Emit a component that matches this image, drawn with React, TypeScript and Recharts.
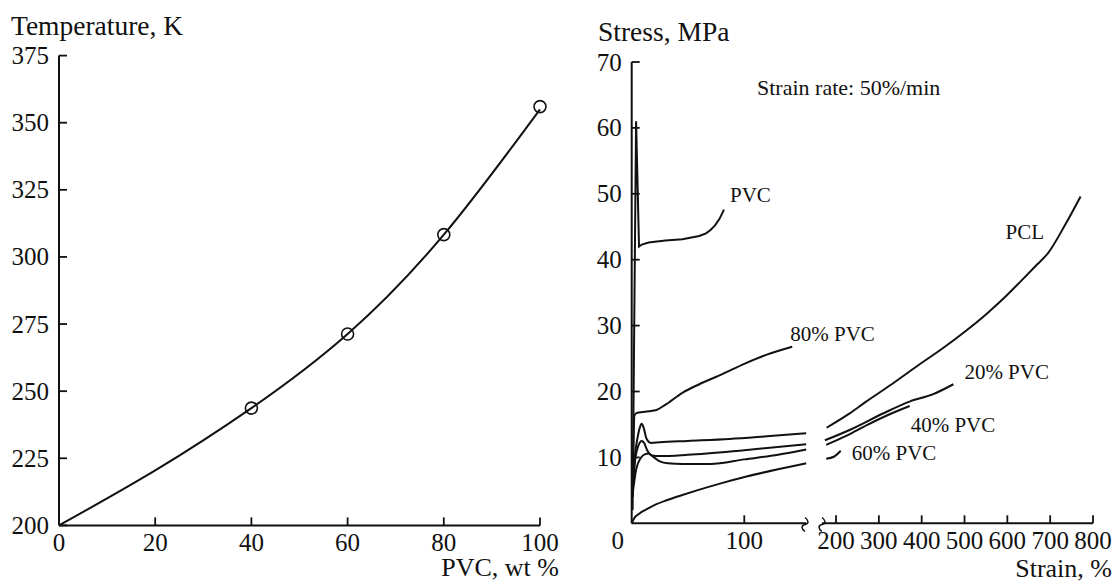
import React from 'react';
import { ComposedChart, Line, Scatter, XAxis, YAxis } from 'recharts';

const INK = '#111';
const FONT = '"Liberation Serif", "Times New Roman", Times, serif';

// left panel: Tg of the blend vs PVC content
const pvcContent = [0, 20, 40, 60, 80, 100];
const tgCurve = [200, 220.5, 243.7, 271.3, 308.3, 355];
const measuredContent = [40, 60, 80, 100];
const measuredTg = [243.7, 271.3, 308.3, 356];
const tempTicks = [200, 225, 250, 275, 300, 325, 350, 375];
const contentTicks = [0, 20, 40, 60, 80, 100];

// right panel: stress-strain curves, low strain part (0..155 %)
const pvcStrain = [0.8, 2.5, 3.9, 6.5, 9, 15, 30, 45, 60, 66, 70, 74, 78, 82];
const pvcStress = [2, 35, 61, 42, 42.3, 42.6, 42.9, 43.1, 43.6, 44, 44.5, 45.2, 46.2, 47.6];
const pvc80Strain = [0.5, 1.5, 2.3, 4, 5.9, 15, 22, 30, 45, 60, 80, 100, 120, 142.6];
const pvc80Stress = [4, 11, 16.3, 16.7, 16.8, 17.0, 17.2, 18.0, 19.8, 21.1, 22.6, 24.2, 25.6, 26.8];
const pclStrainA = [0.5, 3, 5, 7, 8.9, 10.8, 13, 17, 25, 50, 87, 120, 155];
const pclStressA = [4, 10.5, 12.8, 14.4, 15.1, 14.4, 12.9, 12.2, 12.3, 12.5, 12.8, 13.2, 13.65];
const pvc20StrainA = [0.5, 3, 6, 8.9, 11, 14, 18, 25, 50, 100, 155];
const pvc20StressA = [4, 9.5, 11.8, 12.5, 12.2, 11.0, 10.3, 10.2, 10.4, 11.1, 12.0];
const pvc40StrainA = [0.5, 4, 8, 12, 15, 19, 25, 32, 45, 70, 100, 130, 155];
const pvc40StressA = [4, 8.2, 9.9, 10.5, 10.6, 10.1, 9.4, 9.1, 9.0, 9.0, 9.7, 10.4, 11.2];
const pvc60StrainA = [0, 2, 7, 13, 22, 31, 45, 58, 80, 102, 130, 155];
const pvc60StressA = [0, 0.7, 1.5, 2.1, 2.9, 3.5, 4.3, 5.0, 6.1, 7.1, 8.2, 9.1];

// right panel: high strain part (167..800 %)
const pclStrainB = [178, 230, 271, 330, 388, 450, 505, 550, 591, 634, 670, 695, 735, 771];
const pclStressB = [14.5, 16.6, 18.5, 21.1, 23.8, 26.6, 29.3, 31.7, 34.1, 36.9, 39.3, 41.0, 45.3, 49.6];
const pvc20StrainB = [174, 233, 311, 373, 427, 474];
const pvc20StressB = [12.6, 14.2, 16.7, 18.5, 19.6, 21.1];
const pvc40StrainB = [177, 225, 272, 320, 372];
const pvc40StressB = [11.9, 13.3, 14.9, 16.4, 17.8];
const pvc60StrainB = [177, 195, 211];
const pvc60StressB = [9.8, 10.1, 11.0];

const stressTicks = [10, 20, 30, 40, 50, 60, 70];
const lowStrainTicks = [0, 100];
const highStrainTicks = [200, 300, 400, 500, 600, 700, 800];

const pts = (xs: number[], ys: number[]) => xs.map((x, i) => ({ strain: x, stress: ys[i] }));
const tgLine = pvcContent.map((x, i) => ({ x, t: tgCurve[i] }));
const tgPoints = measuredContent.map((x, i) => ({ x, t: measuredTg[i] }));

const TICK_FONT = 25;

const XTick = (props: any) => {
  const { x, y, payload } = props;
  const v = payload.value;
  const shift = props.originShift && v === 0 ? props.originShift : 0;
  return (
    <g>
      {v !== 0 && <line x1={x} y1={y} x2={x} y2={y - 8} stroke={INK} strokeWidth={1.8} />}
      <text x={x + shift} y={y + 26} textAnchor="middle" fontSize={TICK_FONT} fontFamily={FONT} fill={INK}>
        {v}
      </text>
    </g>
  );
};

const YTick = (props: any) => {
  const { x, y, payload } = props;
  const ax = x + 10;
  return (
    <g>
      <line x1={ax} y1={y} x2={ax + 8} y2={y} stroke={INK} strokeWidth={1.8} />
      <text x={x} y={y + 8.5} textAnchor="end" fontSize={TICK_FONT} fontFamily={FONT} fill={INK}>
        {payload.value}
      </text>
    </g>
  );
};

const tag = (text: string, at: number, dx: number, dy: number, anchor = 'start') => (p: any) =>
  p.index === at ? (
    <text key={text} x={p.x + dx} y={p.y + dy} textAnchor={anchor} fontSize={21} fontFamily={FONT} fill={INK}>
      {text}
    </text>
  ) : (
    <g key={`${text}-${p.index}`} />
  );

const axisLine = { stroke: INK, strokeWidth: 2 };

const curve = (data: any[], type: any, label?: any) => (
  <Line
    data={data}
    dataKey="stress"
    type={type}
    stroke={INK}
    strokeWidth={2}
    dot={false}
    label={label}
    isAnimationActive={false}
  />
);

const breakMark = (cx: number, cy: number) =>
  `M${cx},${cy - 7} C${cx + 4},${cy - 4} ${cx + 4},${cy - 1} ${cx},${cy} C${cx - 4},${cy + 1} ${cx - 4},${cy + 4} ${cx},${cy + 7}`;

export default function App() {
  return (
    <div style={{ position: 'absolute', left: 0, top: 0, width: 1117, height: 581, background: '#fff', overflow: 'hidden' }}>
      {/* left panel */}
      <div style={{ position: 'absolute', left: 0, top: 0 }}>
        <ComposedChart width={560} height={581} margin={{ top: 55.6, right: 20, bottom: 25.6, left: 0 }}>
          <XAxis
            dataKey="x"
            type="number"
            domain={[0, 100]}
            ticks={contentTicks}
            interval={0}
            height={30}
            tickSize={0}
            tickMargin={0}
            tickLine={false}
            axisLine={axisLine}
            tick={<XTick />}
          />
          <YAxis
            dataKey="t"
            type="number"
            domain={[200, 375]}
            ticks={tempTicks}
            interval={0}
            width={59}
            tickSize={0}
            tickMargin={10}
            tickLine={false}
            axisLine={axisLine}
            tick={<YTick />}
          />
          <Line data={tgLine} dataKey="t" type="natural" stroke={INK} strokeWidth={2} dot={false} isAnimationActive={false} />
          <Scatter
            data={tgPoints}
            dataKey="t"
            isAnimationActive={false}
            shape={(p: any) => <circle cx={p.cx} cy={p.cy} r={6} fill="none" stroke={INK} strokeWidth={1.6} />}
          />
        </ComposedChart>
      </div>

      {/* right panel, strain 0..155 */}
      <div style={{ position: 'absolute', left: 580, top: 0 }}>
        <ComposedChart width={300} height={581} margin={{ top: 62, right: 73.8, bottom: 27.7, left: 0 }}>
          <XAxis
            dataKey="strain"
            type="number"
            domain={[0, 155]}
            ticks={lowStrainTicks}
            interval={0}
            height={30}
            tickSize={0}
            tickMargin={0}
            tickLine={false}
            axisLine={axisLine}
            tick={<XTick originShift={-14} />}
          />
          <YAxis
            dataKey="stress"
            type="number"
            domain={[0, 70]}
            ticks={stressTicks}
            interval={0}
            width={51.7}
            tickSize={0}
            tickMargin={10}
            tickLine={false}
            axisLine={axisLine}
            tick={<YTick />}
          />
          {curve(pts(pvc60StrainA, pvc60StressA), 'monotone')}
          {curve(pts(pvc40StrainA, pvc40StressA), 'monotone')}
          {curve(pts(pvc20StrainA, pvc20StressA), 'monotone')}
          {curve(pts(pclStrainA, pclStressA), 'monotone')}
          {curve(pts(pvc80Strain, pvc80Stress), 'monotone', tag('80% PVC', pvc80Strain.length - 1, -2, -6))}
          {curve(pts(pvcStrain, pvcStress), 'linear', tag('PVC', pvcStrain.length - 1, 6, -7.6))}
        </ComposedChart>
      </div>

      {/* right panel, strain 167..800 */}
      <div style={{ position: 'absolute', left: 810, top: 0 }}>
        <ComposedChart width={307} height={581} margin={{ top: 62, right: 24, bottom: 27.7, left: 11.9 }}>
          <XAxis
            dataKey="strain"
            type="number"
            domain={[167, 800]}
            ticks={highStrainTicks}
            interval={0}
            height={30}
            tickSize={0}
            tickMargin={0}
            tickLine={false}
            axisLine={axisLine}
            tick={<XTick />}
          />
          <YAxis dataKey="stress" type="number" domain={[0, 70]} hide />
          {curve(pts(pvc60StrainB, pvc60StressB), 'monotone', tag('60% PVC', pvc60StrainB.length - 1, 11, 9))}
          {curve(pts(pvc40StrainB, pvc40StressB), 'monotone', tag('40% PVC', pvc40StrainB.length - 1, 1, 26))}
          {curve(pts(pvc20StrainB, pvc20StressB), 'monotone', tag('20% PVC', pvc20StrainB.length - 1, 11, -5))}
          {curve(pts(pclStrainB, pclStressB), 'monotone', tag('PCL', 11, -4, -14, 'end'))}
        </ComposedChart>
      </div>

      {/* titles and notes */}
      <svg
        width={1117}
        height={581}
        style={{ position: 'absolute', left: 0, top: 0, pointerEvents: 'none' }}
        fontFamily={FONT}
        fill={INK}
      >
        <text x={11} y={35} fontSize={27.5}>Temperature, K</text>
        <text x={559} y={576} fontSize={26} textAnchor="end">PVC, wt %</text>
        <text x={598} y={40.7} fontSize={27.5}>Stress, MPa</text>
        <text x={1112} y={576.5} fontSize={26} textAnchor="end">Strain, %</text>
        <text x={757} y={95} fontSize={22}>Strain rate: 50%/min</text>
        <rect x={807} y={518} width={14} height={12} fill="#fff" />
        <path d={breakMark(805, 524.5)} fill="none" stroke={INK} strokeWidth={1.5} />
        <path d={breakMark(822, 524.5)} fill="none" stroke={INK} strokeWidth={1.5} />
      </svg>
    </div>
  );
}
